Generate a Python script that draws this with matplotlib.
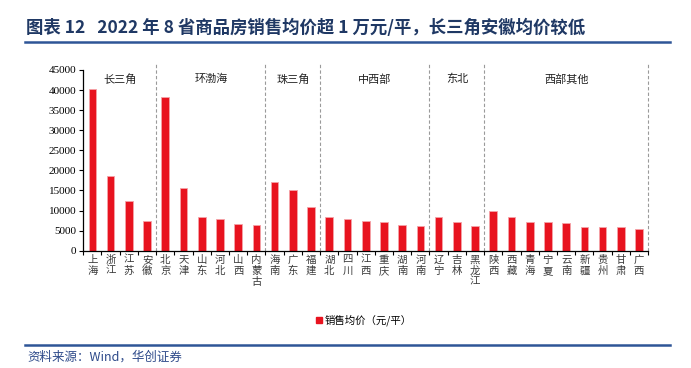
import matplotlib
matplotlib.use("Agg")
import matplotlib.pyplot as plt
import matplotlib.transforms as mtransforms
from matplotlib.lines import Line2D

plt.rcParams['font.family'] = ['Noto Sans CJK SC', 'DejaVu Sans']

# 省份与销售均价（元/平）
provinces = ['上海', '浙江', '江苏', '安徽',
             '北京', '天津', '山东', '河北', '山西', '内蒙古',
             '海南', '广东', '福建',
             '湖北', '四川', '江西', '重庆', '湖南', '河南',
             '辽宁', '吉林', '黑龙江',
             '陕西', '西藏', '青海', '宁夏', '云南', '新疆', '贵州', '甘肃', '广西']
prices = [40300, 18600, 12300, 7300,
          38300, 15600, 8400, 8000, 6700, 6300,
          17100, 15000, 10800,
          8500, 8000, 7400, 7100, 6500, 6200,
          8400, 7100, 6200,
          9900, 8500, 7200, 7200, 6900, 5900, 5800, 5800, 5500]
regions = ['长三角', '环渤海', '珠三角', '中西部', '东北', '西部其他']
region_sizes = [4, 6, 3, 6, 3, 9]

fig = plt.figure(figsize=(6.91, 3.68), dpi=100)
ax = fig.add_axes([0.1205, 0.3188, 0.8175, 0.491])

x = list(range(len(provinces)))
ax.bar(x, prices, width=0.42, color='#E8131F', edgecolor='#F5A3A8', linewidth=0.6)

ax.set_xlim(-0.5, len(provinces) - 0.5)
ax.set_ylim(0, 45000)
ax.set_yticks(range(0, 45001, 5000))
ax.set_yticklabels([str(v) for v in range(0, 45001, 5000)],
                   family='Liberation Serif', fontsize=8)

# 刻度在类别之间
ax.set_xticks([i - 0.5 for i in range(len(provinces) + 1)])
ax.set_xticklabels([])
ax.set_xticks(x, minor=True)
ax.set_xticklabels(['\n'.join(p) for p in provinces], minor=True,
                   fontsize=7.5, color='#3A3A3A', linespacing=1.12, va='top')
ax.tick_params(axis='x', which='minor', length=0, pad=3)
ax.tick_params(axis='x', which='major', length=3, width=0.8, direction='out')
ax.tick_params(axis='y', length=3, width=0.8, direction='out', pad=2)

for side in ['top', 'right']:
    ax.spines[side].set_visible(False)
for side in ['left', 'bottom']:
    ax.spines[side].set_linewidth(0.9)

# 区域分隔虚线与区域名
trans = mtransforms.blended_transform_factory(ax.transData, ax.transAxes)
start = 0
for name, size in zip(regions, region_sizes):
    end = start + size
    ax.plot([end - 0.5, end - 0.5], [0, 1.04], transform=trans, clip_on=False,
            color='#9A9A9A', linewidth=0.8, linestyle=(0, (3, 2)))
    ax.text((start + end - 1) / 2, 42700, name, ha='center', va='center',
            fontsize=8, color='#222222')
    start = end

# 图例
handle = Line2D([], [], marker='s', color='#E8131F', linestyle='none', markersize=5)
fig.legend([handle], ['销售均价（元/平）'], loc='center', bbox_to_anchor=(0.526, 0.13),
           frameon=False, fontsize=7.5, handletextpad=0.1, handlelength=0.8)

# 标题、分隔线、来源
fig.text(0.038, 0.925, '图表 12   2022 年 8 省商品房销售均价超 1 万元/平，长三角安徽均价较低',
         fontsize=12.5, fontweight='bold', color='#1F3864', va='center', ha='left')
fig.add_artist(Line2D([0.036, 0.97], [0.886, 0.886], color='#2E5597', linewidth=1.8))
fig.add_artist(Line2D([0.036, 0.97], [0.062, 0.062], color='#2E5597', linewidth=1.8))
fig.text(0.04, 0.03, '资料来源：Wind，华创证券', fontsize=9, style='italic',
         color='#2E4A8A', va='center', ha='left')

fig.savefig('out.png', dpi=100)
